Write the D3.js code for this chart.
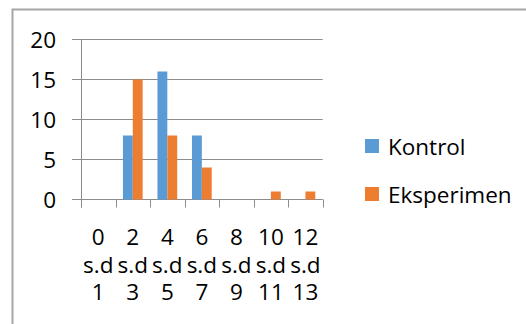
<!DOCTYPE html>
<html>
<head>
<meta charset="utf-8">
<script src="https://cdn.jsdelivr.net/npm/d3@7"></script>
<style>
  html, body { margin: 0; padding: 0; background: #fff; }
  svg { display: block; }
  text { font-family: "Open Sans", Lato, sans-serif; fill: #000; }
</style>
</head>
<body>
<svg id="chart" width="526" height="324"></svg>
<script>
// Score intervals and counts per group
const categories = ["0 s.d 1", "2 s.d 3", "4 s.d 5", "6 s.d 7", "8 s.d 9", "10 s.d 11", "12 s.d 13"];
const seriesNames = ["Kontrol", "Eksperimen"];
const kontrol = [0, 8, 16, 8, 0, 0, 0];
const eksperimen = [0, 15, 8, 4, 0, 1, 1];
const yTicks = [0, 5, 10, 15, 20];

const colors = { Kontrol: "#5B9BD5", Eksperimen: "#ED7D31" };
const gridColor = "#8c8c8c";
const fontSize = 22.5;

const svg = d3.select("#chart");

// outer frame
svg.append("rect")
  .attr("x", 12.5).attr("y", 9.5)
  .attr("width", 600).attr("height", 400)
  .attr("fill", "none")
  .attr("stroke", "#a6a6a6")
  .attr("stroke-width", 2);

const plot = { left: 81, right: 322.7, top: 39.5, bottom: 199.5 };

const x = d3.scaleBand()
  .domain(categories)
  .range([plot.left, plot.right])
  .padding(0);

const xSub = d3.scaleBand()
  .domain(seriesNames)
  .range([0, x.bandwidth()])
  .paddingInner(0)
  .paddingOuter(0.75);

const y = d3.scaleLinear()
  .domain([0, 20])
  .range([plot.bottom, plot.top]);

// horizontal gridlines (extend past the axis as tick marks)
svg.append("g")
  .selectAll("line")
  .data(yTicks)
  .join("line")
  .attr("x1", plot.left - 9)
  .attr("x2", plot.right)
  .attr("y1", d => Math.round(y(d)) - 0.5)
  .attr("y2", d => Math.round(y(d)) - 0.5)
  .attr("stroke", gridColor)
  .attr("stroke-width", 1);

// y axis labels
svg.append("g")
  .selectAll("text")
  .data(yTicks)
  .join("text")
  .attr("x", 56)
  .attr("y", d => y(d))
  .attr("dy", "0.36em")
  .attr("text-anchor", "end")
  .attr("font-size", fontSize)
  .text(d => d);

// vertical axis line
svg.append("line")
  .attr("x1", plot.left + 0.5).attr("x2", plot.left + 0.5)
  .attr("y1", plot.top).attr("y2", plot.bottom + 8)
  .attr("stroke", gridColor);

// category tick marks below the baseline
const tickXs = categories.map(c => x(c)).concat([plot.right]);
svg.append("g")
  .selectAll("line")
  .data(tickXs)
  .join("line")
  .attr("x1", d => Math.round(d) + 0.5)
  .attr("x2", d => Math.round(d) + 0.5)
  .attr("y1", plot.bottom)
  .attr("y2", plot.bottom + 8)
  .attr("stroke", gridColor);

// bars
const rows = categories.map((c, i) => ({ cat: c, Kontrol: kontrol[i], Eksperimen: eksperimen[i] }));
const groups = svg.append("g")
  .selectAll("g")
  .data(rows)
  .join("g")
  .attr("transform", d => `translate(${x(d.cat)},0)`);

groups.selectAll("rect")
  .data(d => seriesNames.map(s => ({ s, v: d[s] })))
  .join("rect")
  .attr("x", d => xSub(d.s))
  .attr("width", xSub.bandwidth())
  .attr("y", d => y(d.v))
  .attr("height", d => y(0) - y(d.v))
  .attr("fill", d => colors[d.s]);

// category labels, three lines each
const lineBaselines = [245, 272.5, 300];
const catLabels = svg.append("g")
  .selectAll("text")
  .data(categories)
  .join("text")
  .attr("text-anchor", "middle")
  .attr("font-size", fontSize);

catLabels.selectAll("tspan")
  .data(d => d.split(" ").map((t, i) => ({ t, i, c: d })))
  .join("tspan")
  .attr("x", d => x(d.c) + x.bandwidth() / 2)
  .attr("y", d => lineBaselines[d.i])
  .text(d => d.t);

// legend
const legend = svg.append("g")
  .selectAll("g")
  .data(seriesNames)
  .join("g")
  .attr("transform", (d, i) => `translate(365,${139 + i * 48})`);

legend.append("rect")
  .attr("width", 14)
  .attr("height", 14)
  .attr("fill", d => colors[d]);

legend.append("text")
  .attr("x", 23)
  .attr("y", 16)
  .attr("font-size", fontSize)
  .text(d => d);
</script>
</body>
</html>
